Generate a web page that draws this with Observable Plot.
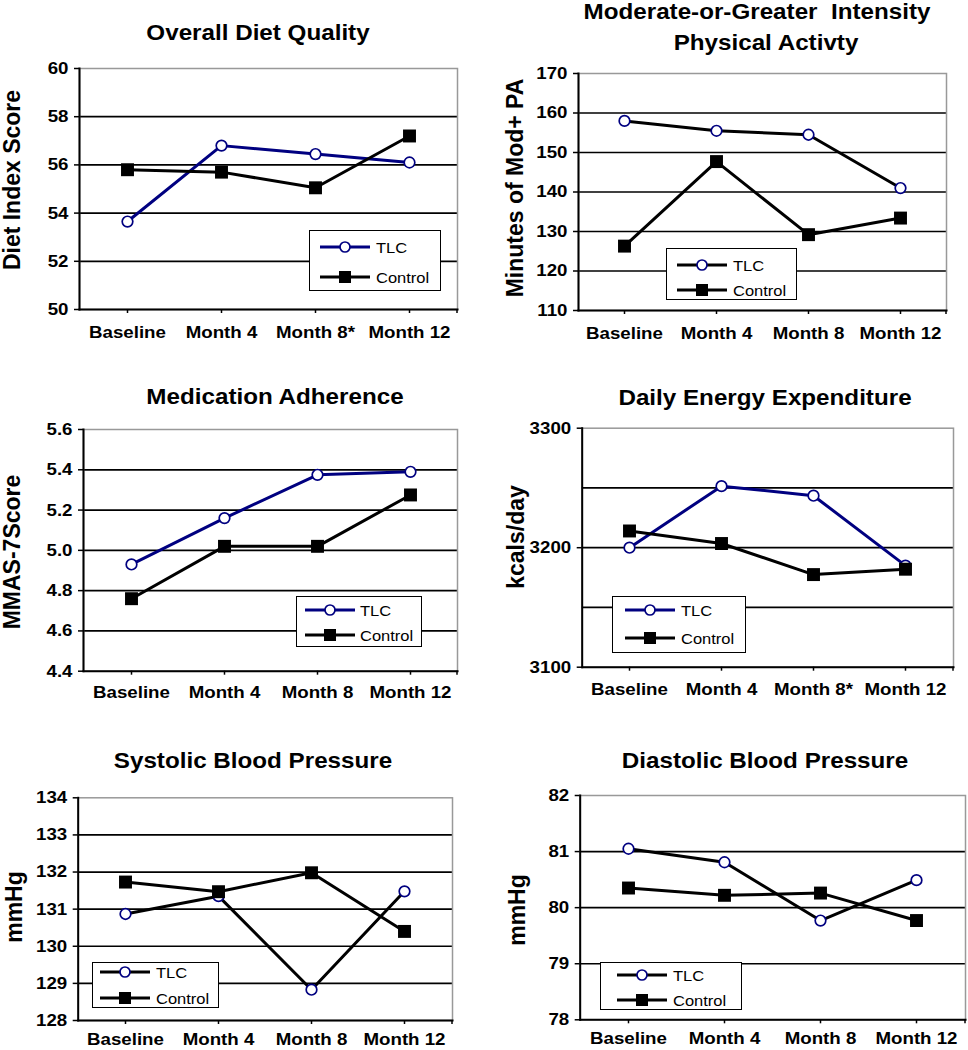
<!DOCTYPE html>
<html><head><meta charset="utf-8">
<script src="https://cdn.jsdelivr.net/npm/d3@7"></script>
<script src="https://cdn.jsdelivr.net/npm/@observablehq/plot@0.6"></script>
<style>
body{margin:0;background:#fff;}
#root{position:relative;width:968px;height:1050px;overflow:hidden;font-family:"Liberation Sans",Arial,sans-serif;color:#000;}
.title{position:absolute;transform:translate(-50%,-50%) scaleX(1.1);font-weight:bold;font-size:22px;white-space:pre;line-height:1;}
.ylab{position:absolute;transform:translate(-50%,-50%) rotate(-90deg);font-weight:bold;font-size:23px;white-space:pre;line-height:1;}
.legend{position:absolute;border:1.5px solid #000;background:#fff;box-sizing:border-box;}
.ltext{position:absolute;transform:translateY(-50%) scaleX(1.1);transform-origin:left center;font-size:15px;line-height:1;white-space:pre;}
.lsw{position:absolute;}
.panel{position:absolute;}
</style></head><body><div id="root"></div><script>
// ---- data ----
const monthsA = ["Baseline", "Month 4", "Month 8", "Month 12"];
const monthsB = ["Baseline", "Month 4", "Month 8*", "Month 12"];
const groups = ["TLC", "Control"];

const dietTLC = [53.65, 56.8, 56.45, 56.1];
const dietControl = [55.8, 55.7, 55.05, 57.2];
const dietTicks = [50, 52, 54, 56, 58, 60];

const paTLC = [158, 155.5, 154.5, 141];
const paControl = [126.3, 147.7, 129.2, 133.4];
const paTicks = [110, 120, 130, 140, 150, 160, 170];

const mmasTLC = [4.93, 5.16, 5.375, 5.39];
const mmasControl = [4.76, 5.02, 5.02, 5.275];
const mmasTicks = [4.4, 4.6, 4.8, 5.0, 5.2, 5.4, 5.6];

const energyTLC = [3200, 3251.5, 3243.5, 3185];
const energyControl = [3214, 3203.5, 3177.5, 3182];
const energyTicks = [3100, 3200, 3300];
const energyGrid = [3150, 3200, 3250];

const sbpTLC = [130.87, 131.35, 128.83, 131.48];
const sbpControl = [131.73, 131.47, 131.98, 130.4];
const sbpTicks = [128, 129, 130, 131, 132, 133, 134];

const dbpTLC = [81.05, 80.81, 79.77, 80.49];
const dbpControl = [80.35, 80.22, 80.26, 79.77];
const dbpTicks = [78, 79, 80, 81, 82];

const titles = ["Overall Diet Quality", "Moderate-or-Greater  Intensity\nPhysical Activty", "Medication Adherence", "Daily Energy Expenditure", "Systolic Blood Pressure", "Diastolic Blood Pressure"];
const yLabels = ["Diet Index Score", "Minutes of Mod+ PA", "MMAS-7Score", "kcals/day", "mmHg", "mmHg"];

// ---- layout / styles ----
const NAVY = "#000080";
const panels = [
  {cats: monthsB, tlc: dietTLC, ctrl: dietControl, ticks: dietTicks, grid: dietTicks.slice(1, -1), fmt: d3.format("d"), tlcLine: NAVY,
   box: {left: 0, top: 45, w: 484, h: 320}, frame: [79, 68, 457, 309], pad: 12,
   title: [{x: 258, y: 33}], ylab: {x: 12, y: 180},
   legend: {box: [309, 230, 441, 291], rows: [246.7, 276.7], sx: 320, tx: 376}},
  {cats: monthsA, tlc: paTLC, ctrl: paControl, ticks: paTicks, grid: paTicks.slice(1, -1), fmt: d3.format("d"), tlcLine: "#000",
   box: {left: 484, top: 45, w: 484, h: 320}, frame: [578, 73, 946, 310], pad: 12,
   title: [{x: 757, y: 12}, {x: 766, y: 43}], ylab: {x: 515, y: 188},
   legend: {box: [666, 248, 797, 300], rows: [265, 290], sx: 677, tx: 733}},
  {cats: monthsA, tlc: mmasTLC, ctrl: mmasControl, ticks: mmasTicks, grid: mmasTicks.slice(1, -1), fmt: d3.format(".1f"), tlcLine: NAVY,
   box: {left: 0, top: 410, w: 484, h: 310}, frame: [83, 429, 457, 670.7], pad: 11,
   title: [{x: 275, y: 397}], ylab: {x: 12, y: 552},
   legend: {box: [296, 595.7, 422, 646.7], rows: [610, 635], sx: 305, tx: 360}},
  {cats: monthsB, tlc: energyTLC, ctrl: energyControl, ticks: energyTicks, grid: energyGrid, fmt: d3.format("d"), tlcLine: NAVY,
   box: {left: 484, top: 410, w: 484, h: 310}, frame: [581.7, 427.7, 953, 666.7], pad: 12,
   title: [{x: 765, y: 398}], ylab: {x: 516, y: 537},
   legend: {box: [611.7, 596, 745.7, 652.7], rows: [610, 638.3], sx: 625, tx: 681}},
  {cats: monthsA, tlc: sbpTLC, ctrl: sbpControl, ticks: sbpTicks, grid: sbpTicks.slice(1, -1), fmt: d3.format("d"), tlcLine: "#000",
   box: {left: 0, top: 780, w: 484, h: 270}, frame: [77.7, 797.3, 452, 1020], pad: 8,
   title: [{x: 253, y: 761}], ylab: {x: 14, y: 907},
   legend: {box: [91.7, 961.7, 219.3, 1008.3], rows: [972.3, 998.3], sx: 100, tx: 156}},
  {cats: monthsA, tlc: dbpTLC, ctrl: dbpControl, ticks: dbpTicks, grid: dbpTicks.slice(1, -1), fmt: d3.format("d"), tlcLine: "#000",
   box: {left: 484, top: 780, w: 484, h: 270}, frame: [579.7, 795, 965, 1019.3], pad: 8,
   title: [{x: 765, y: 761}], ylab: {x: 517, y: 910},
   legend: {box: [599.7, 962.3, 742.3, 1010], rows: [975, 1000], sx: 617, tx: 673}}
];

const root = document.getElementById("root");

function endTick(index, scales, values, dimensions) {
  const {width, height, marginRight, marginBottom} = dimensions;
  const x = width - marginRight, y = height - marginBottom;
  return d3.create("svg:line").attr("x1", x).attr("x2", x).attr("y1", y).attr("y2", y + 4)
    .attr("stroke", "#000").attr("stroke-width", 1.5).node();
}

// widen tick label glyphs horizontally (reference text is ~10% wider), pivoting on each label's anchor
function widenText(svg) {
  d3.select(svg).selectAll("text").each(function () {
    const t = d3.select(this);
    const x = parseFloat(t.attr("x")) || 0;
    const tr = t.attr("transform") || "";
    t.attr("transform", `${tr} translate(${x},0) scale(1.1,1) translate(${-x},0)`.trim());
  });
}

panels.forEach((p, i) => {
  const {left, top, w, h} = p.box;
  const [x0, y0, x1, y1] = p.frame;
  const tlcData = p.cats.map((m, j) => ({month: m, value: p.tlc[j]}));
  const ctrlData = p.cats.map((m, j) => ({month: m, value: p.ctrl[j]}));
  const chart = Plot.plot({
    width: w, height: h,
    marginLeft: x0 - left, marginRight: left + w - x1, marginTop: y0 - top, marginBottom: top + h - y1,
    style: {fontFamily: "'Liberation Sans', Arial, sans-serif", fontSize: "17px", fontWeight: "bold", color: "#000", background: "transparent", overflow: "visible"},
    x: {type: "point", domain: p.cats, padding: 0.5},
    y: {domain: [p.ticks[0], p.ticks[p.ticks.length - 1]]},
    marks: [
      Plot.gridY(p.grid, {stroke: "#000", strokeOpacity: 1, strokeWidth: 1.7}),
      Plot.frame({stroke: "#999", strokeWidth: 1.5}),
      Plot.frame({anchor: "left", stroke: "#000", strokeWidth: 2}),
      Plot.frame({anchor: "bottom", stroke: "#000", strokeWidth: 2}),
      Plot.axisY(p.ticks, {tickSize: 5, tickPadding: 6, tickFormat: p.fmt, label: null, fontSize: 17, fontWeight: "bold", strokeWidth: 1.5}),
      Plot.axisX({tickSize: 4, tickPadding: p.pad, label: null, fontSize: 17, fontWeight: "bold", strokeWidth: 1.5}),
      endTick,
      Plot.line(tlcData, {x: "month", y: "value", stroke: p.tlcLine, strokeWidth: 3}),
      Plot.dot(tlcData, {x: "month", y: "value", r: 5.3, fill: "#fff", stroke: NAVY, strokeWidth: 1.7}),
      Plot.line(ctrlData, {x: "month", y: "value", stroke: "#000", strokeWidth: 3}),
      Plot.dot(ctrlData, {x: "month", y: "value", symbol: "square", r: 7.3, fill: "#000"})
    ]
  });
  widenText(chart);
  const holder = document.createElement("div");
  holder.className = "panel";
  holder.style.left = left + "px";
  holder.style.top = top + "px";
  holder.appendChild(chart);
  root.appendChild(holder);

  // title
  titles[i].split("\n").forEach((t, k) => {
    const d = document.createElement("div");
    d.className = "title";
    d.textContent = t;
    d.style.left = p.title[k].x + "px";
    d.style.top = p.title[k].y + "px";
    root.appendChild(d);
  });
  // y label
  const yl = document.createElement("div");
  yl.className = "ylab";
  yl.textContent = yLabels[i];
  yl.style.left = p.ylab.x + "px";
  yl.style.top = p.ylab.y + "px";
  root.appendChild(yl);

  // legend
  const [bx0, by0, bx1, by1] = p.legend.box;
  const lg = document.createElement("div");
  lg.className = "legend";
  lg.style.left = bx0 + "px"; lg.style.top = by0 + "px";
  lg.style.width = (bx1 - bx0) + "px"; lg.style.height = (by1 - by0) + "px";
  root.appendChild(lg);
  groups.forEach((g, k) => {
    const y = p.legend.rows[k];
    const sw = d3.create("svg").attr("class", "lsw").attr("width", 52).attr("height", 18)
      .style("left", p.legend.sx + "px").style("top", (y - 9) + "px");
    sw.append("line").attr("x1", 0).attr("x2", 50).attr("y1", 9).attr("y2", 9)
      .attr("stroke", k === 0 ? p.tlcLine : "#000").attr("stroke-width", 3);
    if (k === 0) sw.append("circle").attr("cx", 25).attr("cy", 9).attr("r", 5).attr("fill", "#fff").attr("stroke", NAVY).attr("stroke-width", 1.7);
    else sw.append("rect").attr("x", 19).attr("y", 3).attr("width", 12).attr("height", 12).attr("fill", "#000");
    root.appendChild(sw.node());
    const t = document.createElement("div");
    t.className = "ltext";
    t.textContent = g;
    t.style.left = p.legend.tx + "px";
    t.style.top = y + "px";
    root.appendChild(t);
  });
});
</script></body></html>
